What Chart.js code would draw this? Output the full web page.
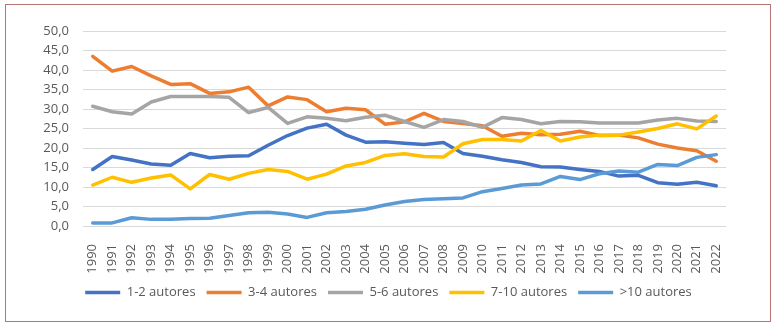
<!DOCTYPE html>
<html lang="es">
<head>
  <meta charset="UTF-8">
  <title>Autores por artículo</title>
  <script src="https://cdn.jsdelivr.net/npm/chart.js"></script>
  <style>
    body {
      margin: 0;
      background: #fff;
    }
    #wrap {
      position: relative;
      width: 777px;
      height: 328px;
    }
    #frame {
      position: absolute;
      left: 5px;
      top: 4px;
      width: 764px;
      height: 316px;
      border: 1.5px solid rgb(183, 118, 118);
      pointer-events: none;
    }
  </style>
</head>
<body>
  <div id="wrap">
    <canvas id="autoresChart" width="777" height="328"></canvas>
    <div id="frame"></div>
  </div>

  <script>
    // Years on the x axis
    const years = ['1990', '1991', '1992', '1993', '1994', '1995', '1996', '1997', '1998', '1999',
      '2000', '2001', '2002', '2003', '2004', '2005', '2006', '2007', '2008', '2009',
      '2010', '2011', '2012', '2013', '2014', '2015', '2016', '2017', '2018', '2019',
      '2020', '2021', '2022'];

    // Percentages per author group
    const autores12 = [14.5, 17.8, 16.9, 15.9, 15.6, 18.6, 17.5, 17.9, 18.0, 20.7,
      23.2, 25.1, 26.1, 23.3, 21.5, 21.6, 21.2, 20.9, 21.4, 18.6,
      17.9, 17.0, 16.3, 15.2, 15.1, 14.5, 14.0, 12.8, 13.0, 11.1,
      10.7, 11.2, 10.3];
    const autores34 = [43.5, 39.7, 40.9, 38.5, 36.3, 36.5, 34.0, 34.4, 35.6, 30.8,
      33.1, 32.4, 29.3, 30.2, 29.8, 26.1, 26.7, 28.9, 26.8, 26.3,
      25.7, 23.0, 23.8, 23.4, 23.5, 24.3, 23.2, 23.3, 22.6, 21.0,
      20.0, 19.3, 16.6];
    const autores56 = [30.7, 29.3, 28.7, 31.8, 33.2, 33.2, 33.2, 33.0, 29.1, 30.4,
      26.3, 28.0, 27.6, 27.0, 27.9, 28.4, 26.8, 25.3, 27.3, 26.8,
      25.3, 27.8, 27.3, 26.2, 26.8, 26.7, 26.4, 26.4, 26.4, 27.2,
      27.6, 26.9, 26.8];
    const autores710 = [10.5, 12.5, 11.2, 12.3, 13.1, 9.5, 13.2, 12.0, 13.5, 14.5,
      14.0, 12.0, 13.3, 15.4, 16.3, 18.1, 18.5, 17.8, 17.7, 21.1,
      22.2, 22.2, 21.8, 24.5, 21.8, 22.8, 23.3, 23.3, 24.1, 25.0,
      26.2, 24.9, 28.2];
    const autoresMas10 = [0.8, 0.8, 2.1, 1.7, 1.7, 1.9, 2.0, 2.7, 3.4, 3.5,
      3.1, 2.2, 3.4, 3.7, 4.3, 5.4, 6.3, 6.8, 7.0, 7.2,
      8.8, 9.6, 10.5, 10.8, 12.7, 11.9, 13.4, 14.1, 13.8, 15.8,
      15.5, 17.6, 18.3];

    const seriesNames = ['1-2 autores', '3-4 autores', '5-6 autores', '7-10 autores', '>10 autores'];
    const seriesData = [autores12, autores34, autores56, autores710, autoresMas10];
    const seriesColors = ['#4472C4', '#ED7D31', '#A5A5A5', '#FFC000', '#5B9BD5'];

    const textColor = '#595959';
    const font = { family: "'Open Sans', sans-serif", size: 13 };

    const datasets = seriesNames.map((name, i) => ({
      label: name,
      data: seriesData[i],
      borderColor: seriesColors[i],
      backgroundColor: seriesColors[i],
      borderWidth: 3.5,
      borderCapStyle: 'round',
      borderJoinStyle: 'round',
      pointRadius: 0,
      tension: 0,
      order: seriesNames.length - i // later series drawn on top, like the original
    }));

    // centre the legend on the whole canvas instead of the padded area
    const centerLegend = {
      id: 'centerLegend',
      afterLayout(chart) {
        chart.legend.left = 0;
        chart.legend.right = chart.width;
      }
    };

    const ctx = document.getElementById('autoresChart').getContext('2d');
    new Chart(ctx, {
      type: 'line',
      data: { labels: years, datasets: datasets },
      plugins: [centerLegend],
      options: {
        responsive: false,
        animation: false,
        layout: {
          padding: { left: 20, right: 51, top: 31, bottom: 19 }
        },
        plugins: {
          tooltip: { enabled: false },
          legend: {
            position: 'bottom',
            labels: {
              color: textColor,
              font: font,
              usePointStyle: true,
              pointStyle: 'line',
              pointStyleWidth: 35,
              padding: 11,
              sort: (a, b) => a.datasetIndex - b.datasetIndex
            }
          }
        },
        scales: {
          x: {
            offset: true,
            grid: { display: false },
            border: { display: false },
            ticks: {
              color: textColor,
              font: font,
              minRotation: 90,
              maxRotation: 90,
              autoSkip: false,
              padding: 10
            },
            afterFit: (scale) => { scale.height = 49; }
          },
          y: {
            min: 0,
            max: 50,
            grid: { color: '#D9D9D9', lineWidth: 1, drawTicks: false },
            border: { display: false },
            ticks: {
              stepSize: 5,
              color: textColor,
              font: font,
              padding: 14,
              callback: (v) => v.toFixed(1).replace('.', ',')
            },
            afterFit: (scale) => { scale.width = 63; }
          }
        }
      }
    });
  </script>
</body>
</html>
